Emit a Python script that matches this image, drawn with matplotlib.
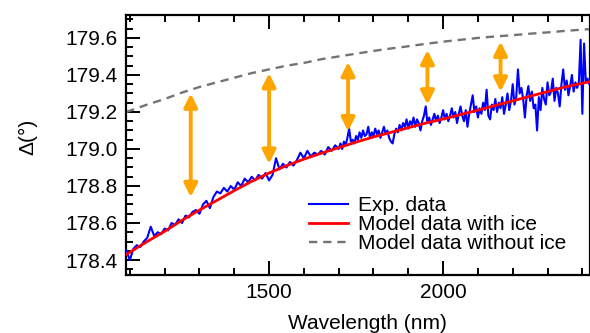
import numpy as np
import matplotlib
matplotlib.use("Agg")
import matplotlib.pyplot as plt
from matplotlib.ticker import MultipleLocator

plt.rcParams['font.family'] = ['Liberation Sans', 'DejaVu Sans']

# Model curves (wavelength in nm, ellipsometric Delta in degrees)
model_wl = [1090, 1150, 1200, 1250, 1300, 1350, 1400, 1450, 1500, 1550, 1600,
            1650, 1700, 1750, 1800, 1850, 1900, 1950, 2000, 2050, 2100, 2150,
            2200, 2250, 2300, 2350, 2400, 2425]
model_ice = [178.43, 178.50, 178.555, 178.615, 178.67, 178.722, 178.775, 178.825,
             178.87, 178.91, 178.945, 178.977, 179.007, 179.037, 179.065, 179.09,
             179.115, 179.14, 179.162, 179.186, 179.21, 179.235, 179.26, 179.285,
             179.31, 179.335, 179.355, 179.365]
model_no_ice = [179.20, 179.24, 179.27, 179.305, 179.335, 179.36, 179.385, 179.41,
                179.43, 179.45, 179.465, 179.485, 179.50, 179.515, 179.53, 179.543,
                179.555, 179.568, 179.58, 179.59, 179.60, 179.608, 179.615, 179.623,
                179.63, 179.638, 179.645, 179.648]

# Measured spectrum: 10 nm steps up to 1700 nm, 5 nm steps beyond
exp_wl = list(range(1090, 1701, 10)) + list(range(1705, 2426, 5))
exp_delta = [
    178.45, 178.40, 178.46, 178.48, 178.47, 178.50, 178.52, 178.58, 178.53, 178.55,
    178.54, 178.57, 178.56, 178.60, 178.59, 178.62, 178.60, 178.64, 178.63, 178.66,
    178.67, 178.65, 178.70, 178.72, 178.68, 178.74, 178.77, 178.76, 178.79, 178.77,
    178.80, 178.78, 178.82, 178.80, 178.84, 178.82, 178.85, 178.83, 178.86, 178.84,
    178.87, 178.83, 178.86, 178.95, 178.89, 178.92, 178.90, 178.93, 178.91, 178.94,
    178.98, 178.95, 178.99, 178.96, 178.98, 178.97, 178.99, 178.97, 179.01, 178.99,
    179.02, 179.00,
    179.03, 179.00, 179.04, 179.02, 179.06, 179.11, 179.04, 179.05, 179.03, 179.07,
    179.05, 179.09, 179.06, 179.10, 179.07, 179.08, 179.12, 179.06, 179.09, 179.07,
    179.11, 179.08, 179.10, 179.06, 179.09, 179.12, 179.08, 179.10, 179.06, 179.04,
    179.03, 179.08, 179.11, 179.09, 179.13, 179.10, 179.14, 179.12, 179.16, 179.11,
    179.15, 179.13, 179.17, 179.12, 179.16, 179.14, 179.10, 179.15, 179.18, 179.23,
    179.14, 179.17, 179.13, 179.16, 179.19, 179.15, 179.18, 179.14, 179.17, 179.21,
    179.16, 179.19, 179.15, 179.18, 179.22, 179.17, 179.20, 179.14, 179.19, 179.23,
    179.18, 179.15, 179.21, 179.12, 179.19, 179.24, 179.29, 179.20, 179.23, 179.17,
    179.22, 179.19, 179.25, 179.21, 179.32, 179.18, 179.16, 179.24, 179.21, 179.27,
    179.20, 179.25, 179.22, 179.28, 179.19, 179.24, 179.30, 179.21, 179.26, 179.35,
    179.24, 179.28, 179.43, 179.30, 179.33, 179.27, 179.17, 179.29, 179.34, 179.26,
    179.31, 179.22, 179.24, 179.10, 179.28, 179.21, 179.33, 179.27, 179.24, 179.36,
    179.29, 179.31, 179.38, 179.26, 179.33, 179.30, 179.23, 179.35, 179.43, 179.32,
    179.37, 179.29, 179.34, 179.40, 179.31, 179.36, 179.33, 179.36, 179.59, 179.19,
    179.57, 179.36, 179.38, 179.35, 179.36,
]

# Gap markers between the two models
arrow_wl = [1275, 1500, 1727, 1955, 2165]
arrow_top = [179.30, 179.41, 179.47, 179.535, 179.58]
arrow_bottom = [178.74, 178.92, 179.095, 179.24, 179.31]

x_ticks = [1500, 2000]
y_ticks = [178.4, 178.6, 178.8, 179.0, 179.2, 179.4, 179.6]

fig = plt.figure(figsize=(5.9, 3.33), dpi=100)
ax = fig.add_axes([126 / 590, 1 - 275 / 333, 1 - 126 / 590, 260 / 333])

ax.plot(exp_wl, exp_delta, color='#0000ff', lw=1.5, label='Exp. data', zorder=3)
ax.plot(model_wl, model_ice, color='#ff0000', lw=2.0, label='Model data with ice', zorder=4)
ax.plot(model_wl, model_no_ice, color='#737373', lw=1.7, ls=(0, (3.5, 2.5)),
        label='Model data without ice', zorder=2)

for xw, yt, yb in zip(arrow_wl, arrow_top, arrow_bottom):
    ax.annotate('', xy=(xw, yt), xytext=(xw, yb),
                arrowprops=dict(arrowstyle='<|-|>', color='#ffa500', lw=2.8,
                                mutation_scale=20, shrinkA=0, shrinkB=0),
                zorder=5)

ax.set_xlim(1089, 2422)
ax.set_ylim(178.319, 179.724)
ax.set_xticks(x_ticks)
ax.set_yticks(y_ticks)
ax.set_yticklabels([f'{v:.1f}' for v in y_ticks])
ax.xaxis.set_minor_locator(MultipleLocator(100))
ax.yaxis.set_minor_locator(MultipleLocator(0.05))
ax.tick_params(which='both', direction='in', top=True, right=False,
               labelsize=15, width=1.4, pad=6)
ax.tick_params(which='major', length=10)
ax.tick_params(which='minor', length=5)
for side in ['left', 'bottom', 'top', 'right']:
    ax.spines[side].set_linewidth(1.6)

ax.set_xlabel('Wavelength (nm)', fontsize=15)
ax.set_ylabel('Δ(°)', fontsize=15)
ax.xaxis.set_label_coords((367 - 126) / 464, -0.15)
ax.yaxis.set_label_coords(-0.19, 0.53)

ax.legend(loc='upper left', bbox_to_anchor=(0.395, 0.304), frameon=False,
          fontsize=15, handlelength=1.85, handletextpad=0.5, labelspacing=0.0,
          borderpad=0, borderaxespad=0)

fig.savefig('out.png', dpi=100)
